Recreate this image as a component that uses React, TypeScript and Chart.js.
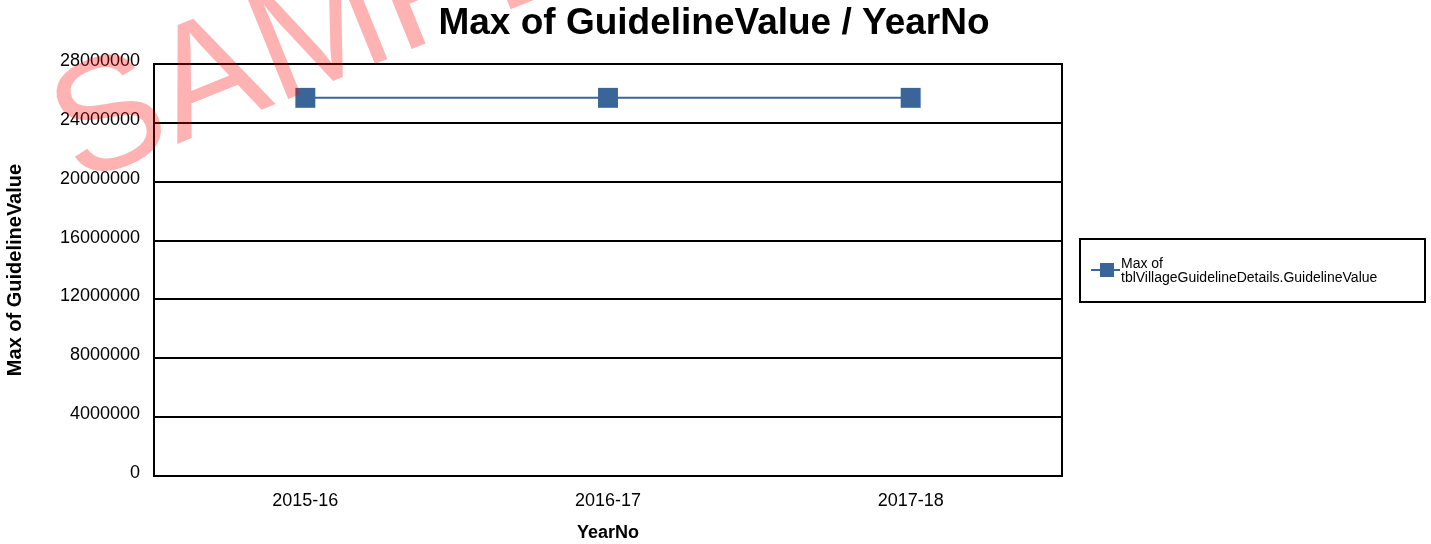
import React, { useEffect, useRef } from "react";
import { Chart, registerables } from "chart.js";

Chart.register(...registerables);

const categories = ["2015-16", "2016-17", "2017-18"];
const seriesValues = [25700000, 25700000, 25700000];
const seriesName = ["Max of", "tblVillageGuidelineDetails.GuidelineValue"];
const yTicks = [0, 4000000, 8000000, 12000000, 16000000, 20000000, 24000000, 28000000];
const chartTitle = "Max of GuidelineValue / YearNo";
const xTitle = "YearNo";
const yTitle = "Max of GuidelineValue";
const watermark = "SAMPLE";

const SERIES_COLOR = "#3A6598";
const FONT = "'Liberation Sans', Arial, sans-serif";

const framePlugin = {
  id: "frame",
  afterDraw(chart: any) {
    const { ctx, chartArea } = chart;
    const { left, top, right, bottom } = chartArea;
    ctx.save();
    // plot frame
    ctx.strokeStyle = "#000";
    ctx.lineWidth = 2;
    ctx.strokeRect(left, top, right - left, bottom - top);

    // title
    ctx.fillStyle = "#000";
    ctx.font = `bold 37px ${FONT}`;
    ctx.textAlign = "center";
    ctx.textBaseline = "middle";
    ctx.fillText(chartTitle, 714, 24);

    // legend
    const bx = 1080, by = 239, bw = 345, bh = 63;
    ctx.strokeRect(bx, by, bw, bh);
    const cy = 270;
    ctx.strokeStyle = SERIES_COLOR;
    ctx.lineWidth = 2;
    ctx.beginPath();
    ctx.moveTo(1091, cy);
    ctx.lineTo(1120, cy);
    ctx.stroke();
    ctx.fillStyle = SERIES_COLOR;
    ctx.fillRect(1100, cy - 7, 14, 14);
    ctx.fillStyle = "#000";
    ctx.font = `14px ${FONT}`;
    ctx.textBaseline = "alphabetic";
    ctx.textAlign = "left";
    ctx.fillText(seriesName[0], 1121, 268);
    ctx.fillText(seriesName[1], 1121, 282);

    // watermark
    ctx.translate(78, 184);
    ctx.rotate((-22 * Math.PI) / 180);
    ctx.font = `160px ${FONT}`;
    ctx.fillStyle = "rgba(255,0,0,0.3)";
    ctx.fillText(watermark, 0, 0);
    ctx.restore();
  },
};

export default function App() {
  const ref = useRef<HTMLCanvasElement | null>(null);
  useEffect(() => {
    document.body.style.margin = "0";
    const canvas = ref.current;
    if (!canvas) return;
    const chart = new Chart(canvas, {
      type: "line",
      data: {
        labels: categories,
        datasets: [
          {
            label: seriesName.join(" "),
            data: seriesValues,
            borderColor: SERIES_COLOR,
            backgroundColor: SERIES_COLOR,
            borderWidth: 2,
            pointStyle: "rect",
            pointRadius: 14.1,
            pointHoverRadius: 14.1,
            pointBackgroundColor: SERIES_COLOR,
            pointBorderWidth: 0,
          },
        ],
      },
      options: {
        responsive: false,
        animation: false,
        layout: { padding: { left: 0, right: 369, top: 64, bottom: 0 } },
        plugins: {
          legend: { display: false },
          tooltip: { enabled: false },
          title: { display: false },
        },
        scales: {
          x: {
            type: "category",
            offset: true,
            grid: { display: false, drawTicks: false },
            border: { display: false },
            ticks: { color: "#000", font: { family: FONT, size: 18 }, padding: 14, maxRotation: 0 },
            title: {
              display: true,
              text: xTitle,
              color: "#000",
              font: { family: FONT, size: 18, weight: "bold" },
              padding: { top: 0, bottom: 0 },
            },
            afterFit(scale: any) {
              scale.height = 68;
            },
          },
          y: {
            min: 0,
            max: 28000000,
            afterBuildTicks(scale: any) {
              scale.ticks = yTicks.map((v) => ({ value: v }));
            },
            grid: { color: "#000", lineWidth: 2, drawTicks: false },
            border: { display: false },
            ticks: {
              color: "#000",
              font: { family: FONT, size: 18 },
              padding: 14,
              labelOffset: -3,
              callback: (v: any) => String(v),
            },
            title: {
              display: true,
              text: yTitle,
              color: "#000",
              font: { family: FONT, size: 20, weight: "bold" },
              padding: { top: 3, bottom: 0 },
            },
            afterFit(scale: any) {
              scale.width = 154;
            },
          },
        },
      },
      plugins: [framePlugin],
    } as any);
    return () => chart.destroy();
  }, []);
  return (
    <div style={{ width: 1431, height: 544, background: "#fff" }}>
      <canvas ref={ref} width={1431} height={544} style={{ display: "block" }} />
    </div>
  );
}
